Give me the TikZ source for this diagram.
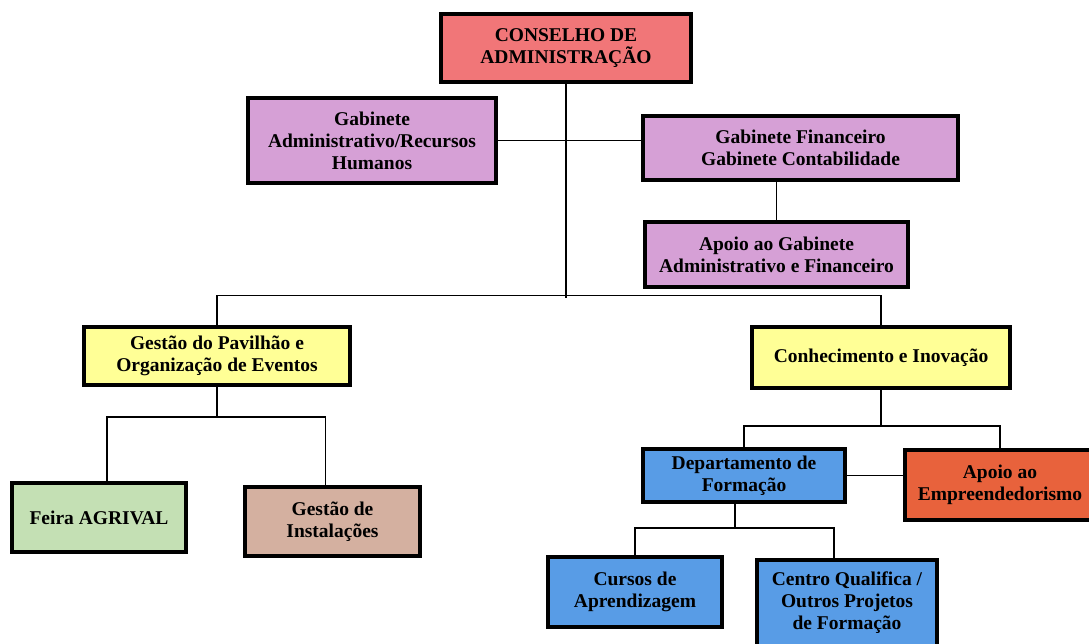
\documentclass[tikz,border=0pt]{standalone}
\usepackage{fontspec}
\setmainfont{Liberation Serif}
\definecolor{conselho}{RGB}{241,118,120}
\definecolor{gabinete}{RGB}{214,160,214}
\definecolor{eventos}{RGB}{255,255,150}
\definecolor{feira}{RGB}{196,224,180}
\definecolor{instal}{RGB}{212,176,160}
\definecolor{formacao}{RGB}{88,156,230}
\definecolor{empreend}{RGB}{232,98,60}
\begin{document}
\begin{tikzpicture}[x=1pt,y=-1pt,
    unit/.style={draw=black, line width=3.4pt, align=center, inner sep=2pt,
        font=\fontsize{19.5}{22}\selectfont\bfseries},
    link/.style={line width=1.6pt}]
    \useasboundingbox (0,0) rectangle (1089,643);

    % Top of the chart
    \node[unit, fill=conselho, minimum width=250, minimum height=68] (ca) at (566,48) {CONSELHO DE\\ADMINISTRAÇÃO};

    % Cabinets
    \node[unit, fill=gabinete, minimum width=248, minimum height=85] (adm) at (372,140.5) {Gabinete\\Administrativo/Recursos\\Humanos};
    \node[unit, fill=gabinete, minimum width=315, minimum height=64] (fin) at (800.5,148) {Gabinete Financeiro\\Gabinete Contabilidade};
    \node[unit, fill=gabinete, minimum width=263, minimum height=65] (apo) at (776.5,254.5) {Apoio ao Gabinete\\Administrativo e Financeiro};

    % Second level
    \node[unit, fill=eventos, minimum width=266, minimum height=58] (pav) at (217,356) {Gestão do Pavilhão e\\Organização de Eventos};
    \node[unit, fill=eventos, minimum width=258, minimum height=61] (con) at (881,357.5) {Conhecimento e Inovação};

    % Under the pavilion
    \node[unit, fill=feira, minimum width=174, minimum height=69] (fei) at (99,517.5) {Feira AGRIVAL};
    \node[unit, fill=instal, minimum width=175, minimum height=69] (ins) at (332.5,521.5) {Gestão de\\Instalações};

    % Under knowledge and innovation
    \node[unit, fill=formacao, minimum width=202, minimum height=53] (dep) at (744,475.5) {Departamento de\\Formação};
    \node[unit, fill=empreend, minimum width=190, minimum height=70] (emp) at (1000,485) {Apoio ao\\Empreendedorismo};
    \node[unit, fill=formacao, minimum width=174, minimum height=70] (cur) at (635,592) {Cursos de\\Aprendizagem};
    \node[unit, fill=formacao, minimum width=180, minimum height=86] (cen) at (847,603) {Centro Qualifica /\\Outros Projetos\\de Formação};

    % Connectors
    \draw[link] (ca.south) -- ++(0,214) coordinate (bus);
    \draw[link] (adm.east) -- (adm.east -| fin.west);
    \draw[link] (apo.north) -- (apo.north |- fin.south);
    \draw[link] (pav.north) -- ++(0,-30) -| (con.north);
    \draw[link] (pav.south) -- ++(0,30) coordinate (pavbus);
    \draw[link] ([xshift=8pt]fei.north) |- (pavbus) -| ([xshift=-7pt]ins.north);
    \draw[link] (con.south) -- ++(0,36) coordinate (conbus);
    \draw[link] (dep.north) |- (conbus) -| (emp.north);
    \draw[link] (dep.east) -- (dep.east -| emp.west);
    \draw[link] ([xshift=-9pt]dep.south) -- ++(0,24) coordinate (depbus);
    \draw[link] (cur.north) |- (depbus) -| ([xshift=-13pt]cen.north);
\end{tikzpicture}
\end{document}
